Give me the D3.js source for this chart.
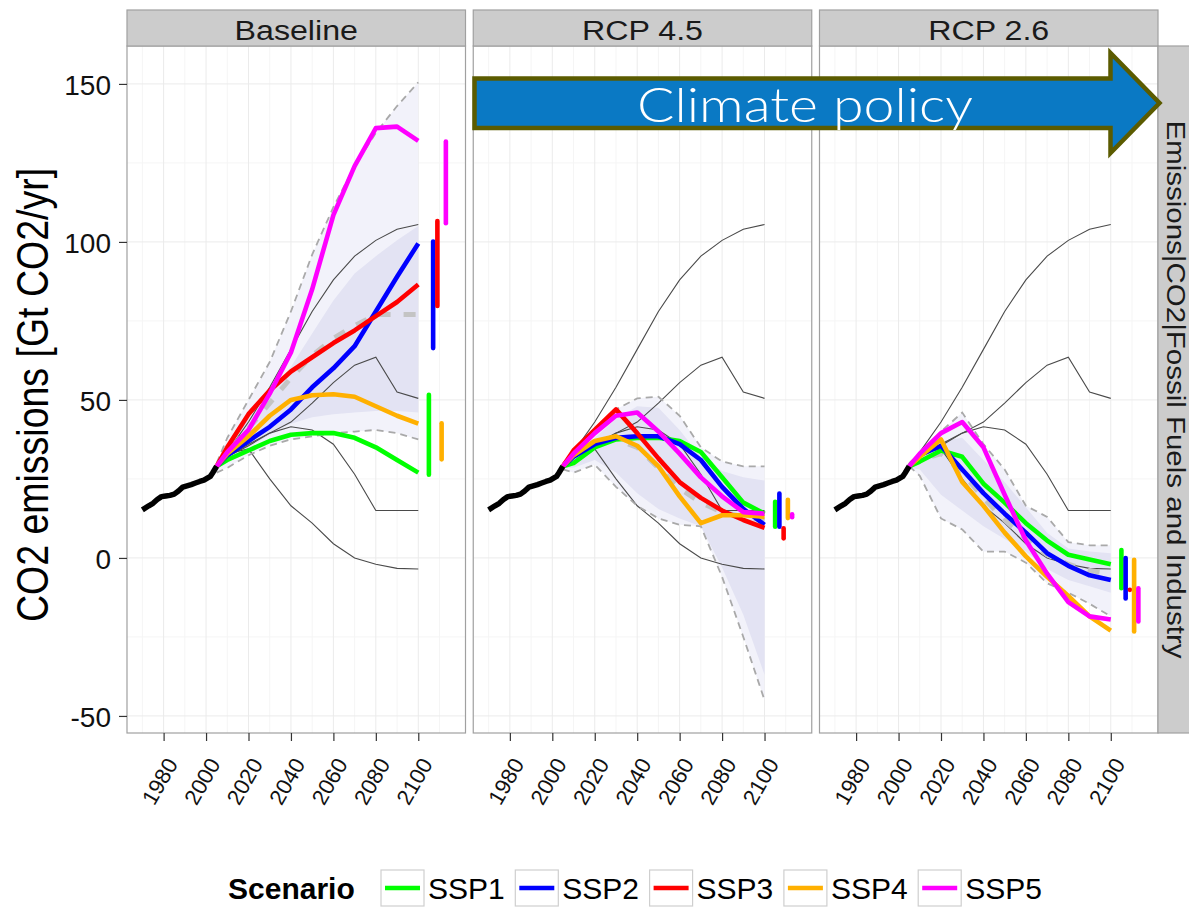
<!DOCTYPE html>
<html>
<head>
<meta charset="utf-8">
<script src="https://cdn.jsdelivr.net/npm/d3@7"></script>
<style>
  body { margin: 0; background: #fff; }
  svg { display: block; font-family: "Liberation Sans", Arial, Helvetica, sans-serif; }
</style>
</head>
<body>
<svg id="chart" width="1189" height="908"></svg>
<script>
// ---- categories and labels ----
const scenarioNames = ["SSP1", "SSP2", "SSP3", "SSP4", "SSP5"];
const scenarioColors = ["#00ff00", "#0000ff", "#ff0000", "#ffb000", "#ff00ff"];
const panelTitles = ["Baseline", "RCP 4.5", "RCP 2.6"];
const yearTicks = [1980, 2000, 2020, 2040, 2060, 2080, 2100];
const valueTicks = [-50, 0, 50, 100, 150];

// ---- historical emissions (Gt CO2/yr) ----
const histYears  = [1970, 1973, 1975, 1977, 1979, 1981, 1983, 1985, 1987, 1989, 1991, 1993, 1995, 1997, 1999, 2001, 2002, 2003, 2004, 2005];
const histValues = [15.2, 16.5, 17.3, 18.5, 19.4, 19.6, 19.8, 20.2, 21.2, 22.4, 22.8, 23.2, 23.7, 24.2, 24.6, 25.4, 25.8, 26.8, 27.9, 29.0];

// ---- scenario pathways ----
const scenYears = [2005, 2010, 2020, 2030, 2040, 2050, 2060, 2070, 2080, 2090, 2100];

const baseSSP1 = [29, 31, 34, 37, 39, 39.5, 39.5, 38, 35, 31, 27];
const baseSSP2 = [29, 32.5, 37, 41.5, 47, 54, 60, 67, 78, 89, 99.5];
const baseSSP3 = [29, 35, 45.5, 53, 59, 63.5, 68, 72, 76.5, 81, 86.5];
const baseSSP4 = [29, 33, 38.5, 45, 50, 51.5, 51.8, 51, 48, 45, 42.5];
const baseSSP5 = [29, 33.5, 40.5, 52, 65, 85, 108.5, 124, 136, 136.5, 132];

const rcp45SSP1 = [29, 30, 35, 37.5, 38, 38, 37, 33.5, 25.5, 17.5, 14];
const rcp45SSP2 = [29, 32, 36, 38, 38.5, 38.5, 36, 31, 22.5, 15.5, 10.5];
const rcp45SSP3 = [29, 34, 40.5, 47, 39.5, 31.5, 24, 19, 15, 12, 9.5];
const rcp45SSP4 = [29, 32.5, 37, 38.5, 35.5, 29, 19.5, 11, 13.5, 13.5, 13];
const rcp45SSP5 = [29, 33, 39.5, 45, 46, 40, 33, 25.5, 19.5, 14.5, 14];

const rcp26SSP1 = [29, 30.5, 34, 32, 23.5, 17.5, 11, 5.5, 1, -0.5, -2];
const rcp26SSP2 = [29, 32.5, 35.5, 28, 20.5, 14, 8, 1.5, -2.5, -5.5, -7];
const rcp26SSP3 = null;
const rcp26SSP4 = [29, 32, 37.5, 24, 16.5, 8, 0.5, -6, -12, -18.5, -23];
const rcp26SSP5 = [29, 33, 39.5, 43, 35, 20, 5.5, -5, -14, -18.5, -19.5];

// ---- 2100 model ranges per scenario ----
const rangeYears = [2105, 2107, 2109, 2111, 2113];
const baseRangeLo  = [26.3, 66.4, 79.7, 31.2, 105.9];
const baseRangeHi  = [51.6, 100.1, 106.6, 42.6, 131.8];
const rcp45RangeLo = [9.9, 9.9, 6.2, 12.6, 12.9];
const rcp45RangeHi = [17.8, 20.4, 9.4, 18.4, 13.8];
const rcp26RangeLo = [-9.6, -12.8, -10.1, -23.3, -20.1];
const rcp26RangeHi = [2.5, 0, -10.1, -0.6, -9.6];

// ---- literature envelopes: outer range, inner range, median ----
const baseOuterLo = [27, 28.5, 32.5, 35.5, 37.5, 38.5, 39.5, 40, 40.5, 39.5, 37.5];
const baseOuterHi = [30, 38, 50, 62, 78, 96, 111, 124, 134.5, 143, 150.5];
const baseInnerLo = [28, 30.5, 35, 39, 42.5, 44.5, 45.5, 46, 46.5, 46.5, 46];
const baseInnerHi = [29.5, 35, 44, 52, 60.5, 71, 81.5, 90, 95.5, 100.5, 105];
const baseMedian  = [29, 33, 41, 49, 57, 64, 69.5, 73.5, 77, 77, 77];

const rcp45OuterLo = [28, 27, 29.5, 22.5, 16.5, 12.5, 10.5, 10, -6, -25, -45];
const rcp45OuterHi = [30, 33, 40, 47, 50.5, 51, 45, 35, 30.5, 29, 29];
const rcp45InnerLo = [28.5, 28.5, 31, 27, 20.5, 15.5, 12.5, 10, -3, -18, -37];
const rcp45InnerHi = [29.5, 32, 38, 44, 48, 47.5, 40.5, 32, 27.5, 25.5, 24.5];
const rcp45Median  = [29, 32, 37, 37.5, 35, 28.5, 22, 17.5, 14.5, 13, 12];

const rcp26OuterLo = [29, 26, 12.5, 9, 2, 2, -1.5, -8, -11, -14.5, -18.5];
const rcp26OuterHi = [30, 33, 40, 46, 36, 28, 16.5, 13, 5, 4, 4];
const rcp26InnerLo = [28.5, 28, 20, 15, 10, 6, 2, -3.5, -7, -9, -11];
const rcp26InnerHi = [29.5, 32, 37, 38, 31, 24, 16, 8, 3, 2, 1.5];
const rcp26Median  = [29, 31, 33, 27, 19, 12, 6, 1, -2, -4, -5];

// ---- RCP reference pathways (shown in every panel) ----
const rcp85Path = [29, 33.5, 43, 54, 66, 78, 88, 95.5, 100.5, 104, 105.5];
const rcp60Path = [29, 32, 35.5, 39.5, 43, 49, 55.5, 61, 63.5, 52.5, 50.5];
const rcp45Path = [29, 32, 36, 39.5, 41.5, 40.5, 36, 26.5, 15, 15, 15];
const rcp26Path = [29, 33, 34.5, 25, 16.5, 11, 4.5, 0, -2, -3.3, -3.5];

// ---- assemble panel tables ----
const panels = [
  { title: panelTitles[0], ssp: [baseSSP1, baseSSP2, baseSSP3, baseSSP4, baseSSP5],
    lo: baseRangeLo, hi: baseRangeHi,
    outerLo: baseOuterLo, outerHi: baseOuterHi, innerLo: baseInnerLo, innerHi: baseInnerHi, median: baseMedian },
  { title: panelTitles[1], ssp: [rcp45SSP1, rcp45SSP2, rcp45SSP3, rcp45SSP4, rcp45SSP5],
    lo: rcp45RangeLo, hi: rcp45RangeHi,
    outerLo: rcp45OuterLo, outerHi: rcp45OuterHi, innerLo: rcp45InnerLo, innerHi: rcp45InnerHi, median: rcp45Median },
  { title: panelTitles[2], ssp: [rcp26SSP1, rcp26SSP2, rcp26SSP3, rcp26SSP4, rcp26SSP5],
    lo: rcp26RangeLo, hi: rcp26RangeHi,
    outerLo: rcp26OuterLo, outerHi: rcp26OuterHi, innerLo: rcp26InnerLo, innerHi: rcp26InnerHi, median: rcp26Median }
];
const rcpPaths = [rcp85Path, rcp60Path, rcp45Path, rcp26Path];

// ---- layout ----
const svg = d3.select("#chart");
const panelTop = 46, panelBottom = 733, panelW = 338.5;
const panelLefts = [127, 473.25, 819.5];
const stripTop = 10;

const x = d3.scaleLinear().domain([1962.75, 2122.25]).range([0, panelW]);
const y = d3.scaleLinear().domain([-55.4, 162]).range([panelBottom, panelTop]);

const zip = (a, b) => a.map((v, i) => [scenYears[i], v, b ? b[i] : null]);
const line = d3.line().x(d => x(d[0])).y(d => y(d[1]));
const band = d3.area().x(d => x(d[0])).y0(d => y(d[1])).y1(d => y(d[2]));

const minorX = d3.range(1970, 2121, 20);
const minorY = [-25, 25, 75, 125];

panels.forEach((p, i) => {
  const g = svg.append("g").attr("transform", `translate(${panelLefts[i]},0)`);

  g.append("rect").attr("x", 0).attr("y", panelTop).attr("width", panelW)
    .attr("height", panelBottom - panelTop).attr("fill", "#fff");

  // grid
  g.append("g").selectAll("line").data(minorX).join("line")
    .attr("x1", d => x(d)).attr("x2", d => x(d)).attr("y1", panelTop).attr("y2", panelBottom)
    .attr("stroke", "#f5f5f5").attr("stroke-width", 1);
  g.append("g").selectAll("line").data(minorY).join("line")
    .attr("x1", 0).attr("x2", panelW).attr("y1", d => y(d)).attr("y2", d => y(d))
    .attr("stroke", "#f5f5f5").attr("stroke-width", 1);
  g.append("g").selectAll("line").data(yearTicks).join("line")
    .attr("x1", d => x(d)).attr("x2", d => x(d)).attr("y1", panelTop).attr("y2", panelBottom)
    .attr("stroke", "#ebebeb").attr("stroke-width", 1);
  g.append("g").selectAll("line").data(valueTicks).join("line")
    .attr("x1", 0).attr("x2", panelW).attr("y1", d => y(d)).attr("y2", d => y(d))
    .attr("stroke", "#ebebeb").attr("stroke-width", 1);

  // envelopes
  g.append("path").attr("d", band(zip(p.outerLo, p.outerHi))).attr("fill", "#f2f2fa");
  g.append("path").attr("d", band(zip(p.innerLo, p.innerHi))).attr("fill", "#e3e3f3");

  // RCP reference pathways
  rcpPaths.forEach(r => {
    g.append("path").attr("d", line(zip(r))).attr("fill", "none")
      .attr("stroke", "#4a4a4a").attr("stroke-width", 1.1);
  });

  // envelope bounds and median
  [p.outerLo, p.outerHi].forEach(b => {
    g.append("path").attr("d", line(zip(b))).attr("fill", "none")
      .attr("stroke", "#a9a9a9").attr("stroke-width", 1.8).attr("stroke-dasharray", "7,5");
  });
  g.append("path").attr("d", line(zip(p.median))).attr("fill", "none")
    .attr("stroke", "#c4c4c4").attr("stroke-width", 5).attr("stroke-dasharray", "12,13");

  // scenario pathways
  p.ssp.forEach((s, k) => {
    if (!s) return;
    g.append("path").attr("d", line(zip(s))).attr("fill", "none")
      .attr("stroke", scenarioColors[k]).attr("stroke-width", 4.6)
      .attr("stroke-linejoin", "round");
  });

  // history
  g.append("path").attr("d", line(histYears.map((yr, j) => [yr, histValues[j]])))
    .attr("fill", "none").attr("stroke", "#000").attr("stroke-width", 5.5)
    .attr("stroke-linejoin", "round");

  // 2100 ranges
  g.append("g").selectAll("line").data(scenarioNames).join("line")
    .attr("x1", (d, k) => x(rangeYears[k])).attr("x2", (d, k) => x(rangeYears[k]))
    .attr("y1", (d, k) => y(p.lo[k])).attr("y2", (d, k) => y(p.hi[k]))
    .attr("stroke", (d, k) => scenarioColors[k]).attr("stroke-width", 4.6)
    .attr("stroke-linecap", "round");

  // border
  g.append("rect").attr("x", 0).attr("y", panelTop).attr("width", panelW)
    .attr("height", panelBottom - panelTop).attr("fill", "none")
    .attr("stroke", "#a0a0a0").attr("stroke-width", 1.2);

  // top strip
  g.append("rect").attr("x", 0).attr("y", stripTop).attr("width", panelW)
    .attr("height", panelTop - stripTop).attr("fill", "#cccccc")
    .attr("stroke", "#a0a0a0").attr("stroke-width", 1.2);
  g.append("text").attr("transform", `translate(${panelW / 2},39.5) scale(1.15,1)`)
    .attr("text-anchor", "middle").attr("font-size", 28).attr("fill", "#1a1a1a").text(p.title);

  // bottom axis
  const ax = g.append("g").attr("transform", `translate(0,${panelBottom})`)
    .call(d3.axisBottom(x).tickValues(yearTicks).tickFormat(d => String(d)).tickSize(8).tickSizeOuter(0));
  ax.select(".domain").remove();
  ax.selectAll(".tick line").attr("stroke", "#333").attr("stroke-width", 1.2);
  ax.selectAll(".tick text")
    .attr("x", 0).attr("y", 0).attr("dy", 0)
    .attr("transform", "translate(14.5,31) rotate(-60)")
    .attr("text-anchor", "end").attr("font-size", 22).attr("fill", "#111");
});

// left axis
const ay = svg.append("g").attr("transform", `translate(${panelLefts[0]},0)`)
  .call(d3.axisLeft(y).tickValues(valueTicks).tickFormat(d => String(d))
    .tickSize(8).tickPadding(8).tickSizeOuter(0));
ay.select(".domain").remove();
ay.selectAll(".tick line").attr("stroke", "#333").attr("stroke-width", 1.2);
ay.selectAll(".tick text").attr("font-size", 28).attr("fill", "#111").attr("dy", "0.36em");

// y label
svg.append("text")
  .attr("transform", "translate(48,395) scale(1.2,1) rotate(-90)")
  .attr("text-anchor", "middle").attr("font-size", 37.5).attr("fill", "#000")
  .text("CO2 emissions [Gt CO2/yr]");

// right strip
const stripX = panelLefts[2] + panelW;
svg.append("rect").attr("x", stripX).attr("y", panelTop).attr("width", 45)
  .attr("height", panelBottom - panelTop).attr("fill", "#cccccc")
  .attr("stroke", "#a0a0a0").attr("stroke-width", 1.2);
svg.append("text")
  .attr("transform", `translate(1166.5,${(panelTop + panelBottom) / 2}) scale(0.85,1) rotate(90)`)
  .attr("text-anchor", "middle").attr("font-size", 29.5).attr("fill", "#1a1a1a")
  .text("Emissions|CO2|Fossil Fuels and Industry");

// climate policy arrow
const arrow = d3.path();
arrow.moveTo(474.5, 78.5);
arrow.lineTo(1110.5, 78.5);
arrow.lineTo(1110.5, 53);
arrow.lineTo(1159.5, 103);
arrow.lineTo(1110.5, 153);
arrow.lineTo(1110.5, 128);
arrow.lineTo(474.5, 128);
arrow.closePath();
svg.append("path").attr("d", arrow.toString()).attr("fill", "#0a79c4")
  .attr("stroke", "#5b5b00").attr("stroke-width", 4.5).attr("stroke-linejoin", "miter");
svg.append("text").attr("x", 637).attr("y", 122)
  .attr("font-family", "Lato, 'Open Sans', sans-serif").attr("font-size", 48)
  .attr("font-weight", 300)
  .attr("textLength", 336).attr("lengthAdjust", "spacingAndGlyphs")
  .attr("fill", "#fff").text("Climate policy");

// legend
const legend = svg.append("g");
legend.append("text").attr("x", 228).attr("y", 899).attr("font-size", 30)
  .attr("font-weight", "bold").attr("fill", "#000").text("Scenario");
scenarioNames.forEach((n, k) => {
  const kx = 381 + k * 134.3;
  legend.append("rect").attr("x", kx).attr("y", 870).attr("width", 43).attr("height", 36)
    .attr("fill", "#fff").attr("stroke", "#cfcfcf").attr("stroke-width", 1.2);
  legend.append("line").attr("x1", kx + 4).attr("x2", kx + 39).attr("y1", 888).attr("y2", 888)
    .attr("stroke", scenarioColors[k]).attr("stroke-width", 4.6);
  legend.append("text").attr("x", kx + 47).attr("y", 899).attr("font-size", 30)
    .attr("fill", "#000").text(n);
});
</script>
</body>
</html>
